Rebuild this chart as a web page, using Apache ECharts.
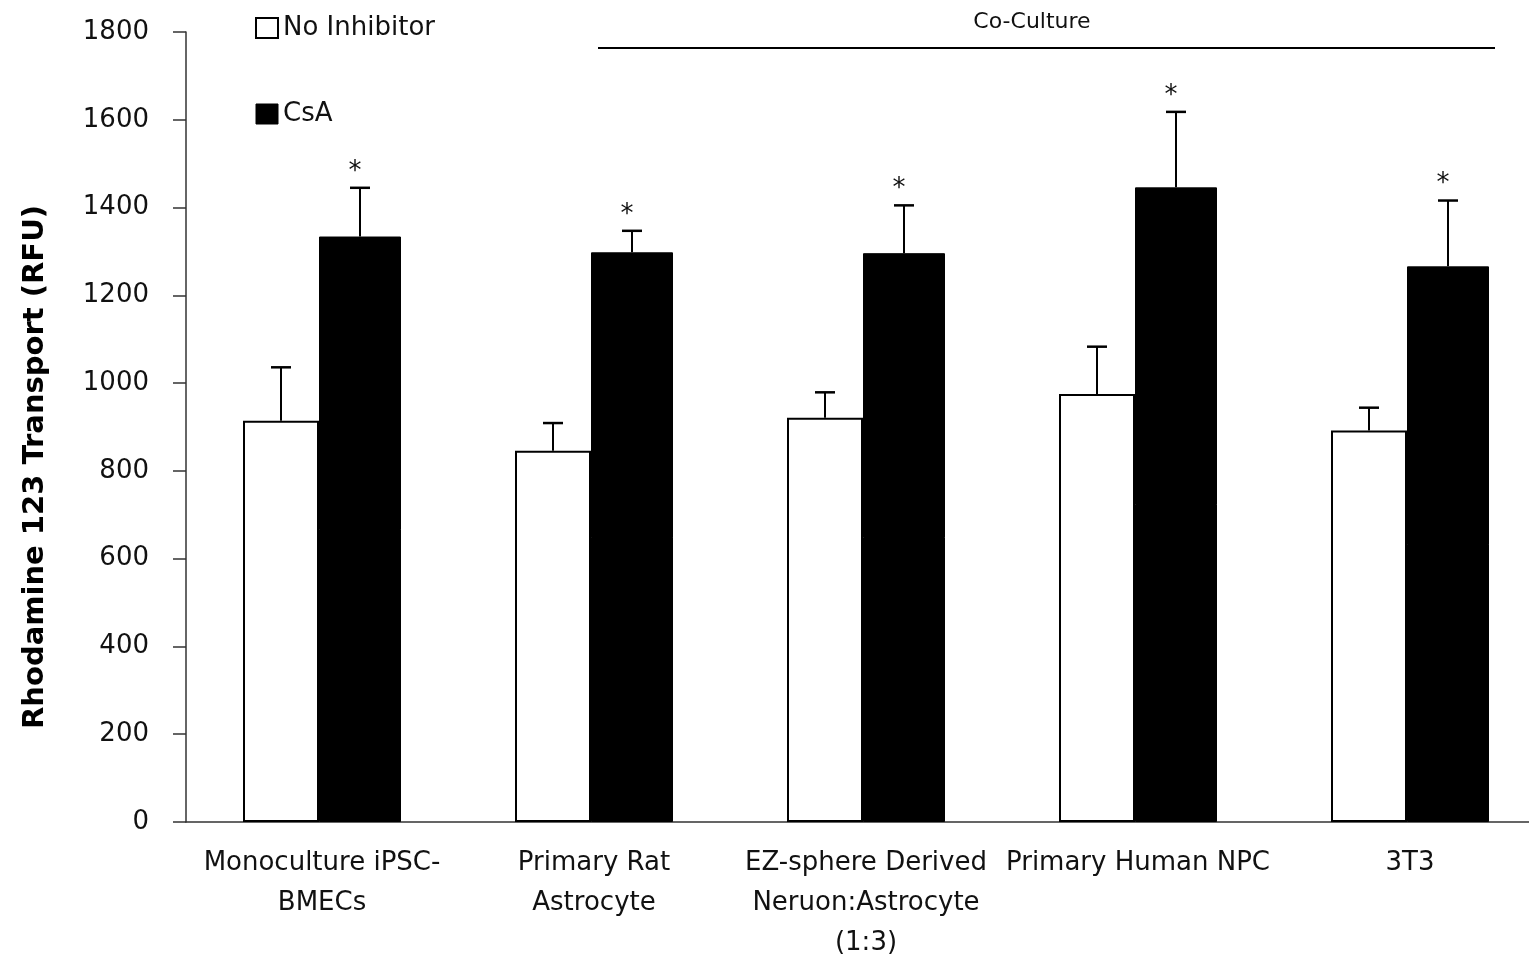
<!DOCTYPE html>
<html>
<head>
<meta charset="utf-8">
<script src="https://cdn.jsdelivr.net/npm/echarts@6/dist/echarts.min.js"></script>
<style>html,body{margin:0;padding:0;background:#fff;}#c{width:1529px;height:959px;}</style>
</head>
<body>
<div id="c"></div>
<script>
const categories = ['Monoculture iPSC-\nBMECs', 'Primary Rat\nAstrocyte', 'EZ-sphere Derived\nNeruon:Astrocyte\n(1:3)', 'Primary Human NPC', '3T3'];
const noInhibitor = [914, 846, 921, 975, 892];
const noInhibitorErr = [122, 63, 58, 108, 52];
const csa = [1334, 1298, 1296, 1446, 1266];
const csaErr = [111, 49, 109, 172, 150];
const significant = [true, true, true, true, true];
const yMin = 0, yMax = 1800, yInterval = 200;
const yTitle = 'Rhodamine 123 Transport (RFU)';
const groupLabel = 'Co-Culture';

const FONT = 'DejaVu Sans';
const chart = echarts.init(document.getElementById('c'), null, {renderer: 'canvas'});

function errRenderer(offset, withStar) {
  return function (params, api) {
    const i = api.value(0);
    const base = api.coord([i, api.value(1)]);
    const top = api.coord([i, api.value(1) + api.value(2)]);
    const cx = base[0] + offset;
    const children = [
      {type: 'line', shape: {x1: cx, y1: base[1], x2: cx, y2: top[1]}, style: {stroke: '#000', lineWidth: 2}},
      {type: 'line', shape: {x1: cx - 10, y1: top[1], x2: cx + 10, y2: top[1]}, style: {stroke: '#000', lineWidth: 2.5}}
    ];
    if (withStar && significant[i]) {
      children.push({type: 'text', style: {text: '*', x: cx - 5, y: top[1] - 16, textAlign: 'center', textVerticalAlign: 'middle', font: '26px "DejaVu Sans"', fill: '#111'}});
    }
    return {type: 'group', children: children};
  };
}

const option = {
  backgroundColor: '#fff',
  animation: false,
  grid: {left: 186, top: 32, width: 1360, height: 790, containLabel: false, outerBoundsMode: 'none'},
  legend: {
    orient: 'vertical', left: 250, top: 10, itemGap: 60, itemWidth: 22, itemHeight: 20,
    textStyle: {fontFamily: FONT, fontSize: 26, color: '#111'},
    data: [
      {name: 'No Inhibitor', icon: 'rect', itemStyle: {color: '#fff', borderColor: '#000', borderWidth: 2}},
      {name: 'CsA', icon: 'rect', itemStyle: {color: '#000', borderColor: '#000', borderWidth: 1}}
    ]
  },
  xAxis: {
    type: 'category', data: categories,
    axisLine: {lineStyle: {color: '#333', width: 1.5}},
    axisTick: {show: false},
    axisLabel: {fontFamily: FONT, fontSize: 26, color: '#111', margin: 21, lineHeight: 40, interval: 0}
  },
  yAxis: {
    type: 'value', min: yMin, max: yMax, interval: yInterval,
    axisLine: {show: true, lineStyle: {color: '#333', width: 1.5}},
    axisTick: {show: true, length: 13, lineStyle: {color: '#333', width: 1.5}},
    splitLine: {show: false},
    axisLabel: {fontFamily: FONT, fontSize: 26, color: '#111', margin: 37, formatter: v => String(v)}
  },
  graphic: [
    {type: 'text', x: 35, y: 467, rotation: Math.PI / 2, style: {text: yTitle, font: 'bold 29px "DejaVu Sans"', fill: '#000', textAlign: 'center', textVerticalAlign: 'middle'}},
    {type: 'line', shape: {x1: 598, y1: 48, x2: 1495, y2: 48}, style: {stroke: '#000', lineWidth: 2}},
    {type: 'text', x: 1032, y: 22, style: {text: groupLabel, font: '22px "DejaVu Sans"', fill: '#111', textAlign: 'center', textVerticalAlign: 'middle'}}
  ],
  series: [
    {name: 'No Inhibitor', type: 'bar', data: noInhibitor, barWidth: 76, barGap: '0%',
      itemStyle: {color: '#fff', borderColor: '#000', borderWidth: 2}},
    {name: 'CsA', type: 'bar', data: csa, barWidth: 82, barGap: '0%',
      itemStyle: {color: '#000', borderColor: '#000', borderWidth: 1}},
    {type: 'custom', name: 'errNo', renderItem: errRenderer(-41, false), z: 5,
      data: noInhibitor.map((v, i) => [i, v, noInhibitorErr[i]]), encode: {x: 0, y: 1}},
    {type: 'custom', name: 'errCsA', renderItem: errRenderer(38, true), z: 5,
      data: csa.map((v, i) => [i, v, csaErr[i]]), encode: {x: 0, y: 1}}
  ]
};
chart.setOption(option);
</script>
</body>
</html>
